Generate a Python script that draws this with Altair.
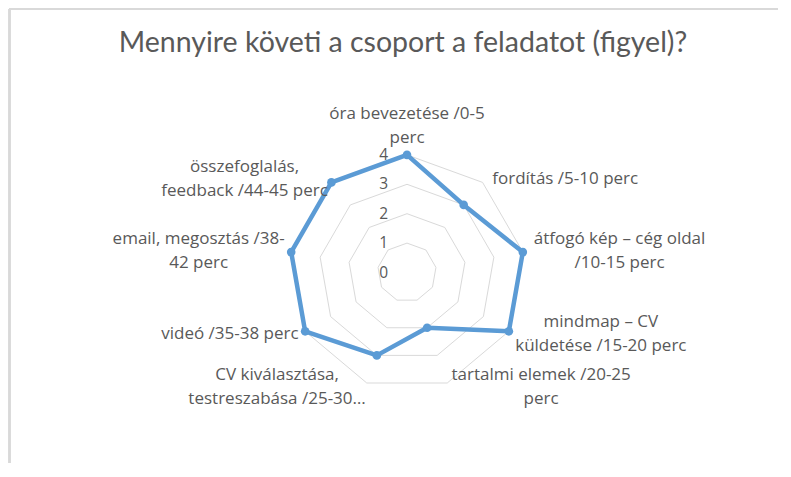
import altair as alt
import pandas as pd

# ---------------- data ----------------
chart_title = "Mennyire követi a csoport a feladatot (figyel)?"
categories = [
    "óra bevezetése /0-5\nperc",
    "fordítás /5-10 perc",
    "átfogó kép – cég oldal\n/10-15 perc",
    "mindmap – CV\nküldetése /15-20 perc",
    "tartalmi elemek /20-25\nperc",
    "CV kiválasztása,\ntestreszabása /25-30…",
    "videó /35-38 perc",
    "email, megosztás /38-\n42 perc",
    "összefoglalás,\nfeedback /44-45 perc",
]
values = [4, 3, 4, 4, 2, 3, 4, 4, 4]
ticks = [0, 1, 2, 3, 4]

# ---------------- layout constants ----------------
N = len(categories)
W, H = 770, 393          # plot area
PAD_TOP = 62
U = 29.4                 # px per value unit
CX, CY = 399, 202.5      # centre inside plot area (px)
XD = [-CX / U, (W - CX) / U]
YD = [-(H - CY) / U, CY / U]
RMAX = max(ticks)
RL = RMAX + 0.15         # label anchor radius
CW = 8.4                 # approx label char width (px)
LH = 24                  # label line height (px)

TXT = "#595959"
GRID = "#d9d9d9"
BLUE = "#5b9bd5"
FONT = "Open Sans"

xs = alt.Scale(domain=XD, nice=False, zero=False)
ys = alt.Scale(domain=YD, nice=False, zero=False)

ANG = f"2*PI*datum.idx/{N}"

series_df = pd.DataFrame({
    "idx": list(range(N)) + [N],
    "value": values + [values[0]],
    "category": categories + [categories[0]],
})
points_df = pd.DataFrame({"idx": list(range(N)), "value": values, "category": categories})

grid_rows = [{"ring": t, "idx": i} for t in ticks if t > 0 for i in range(N + 1)]
grid_df = pd.DataFrame(grid_rows)

tick_df = pd.DataFrame({"t": ticks})

label_df = pd.DataFrame({
    "idx": list(range(N)),
    "label": categories,
    "nlines": [len(c.split("\n")) for c in categories],
    "maxlen": [max(len(s) for s in c.split("\n")) for c in categories],
})

X = lambda f: alt.X(f, scale=xs, axis=None)
Y = lambda f: alt.Y(f, scale=ys, axis=None)

grid = alt.Chart(grid_df).transform_calculate(
    gx=f"datum.ring*sin({ANG})", gy=f"datum.ring*cos({ANG})"
).mark_line(color=GRID, strokeWidth=1).encode(
    x=X("gx:Q"), y=Y("gy:Q"), detail="ring:N", order="idx:Q"
)

line = alt.Chart(series_df).transform_calculate(
    px=f"datum.value*sin({ANG})", py=f"datum.value*cos({ANG})"
).mark_line(color=BLUE, strokeWidth=4.5, strokeJoin="round").encode(
    x=X("px:Q"), y=Y("py:Q"), order="idx:Q"
)

pts = alt.Chart(points_df).transform_calculate(
    px=f"datum.value*sin({ANG})", py=f"datum.value*cos({ANG})"
).mark_circle(color=BLUE, size=75, opacity=1).encode(
    x=X("px:Q"), y=Y("py:Q"), tooltip=["category:N", "value:Q"]
)

tick_labels = alt.Chart(tick_df).transform_calculate(
    tx=f"-{19 / U}", ty="datum.t"
).mark_text(align="right", baseline="middle", fontSize=15.5, font=FONT, color=TXT).encode(
    x=X("tx:Q"), y=Y("ty:Q"), text="t:Q"
)

cat_labels = alt.Chart(label_df).transform_calculate(
    s=f"sin({ANG})", c=f"cos({ANG})"
).transform_calculate(
    side="datum.s > 0.1 ? 1 : (datum.s < -0.1 ? -1 : 0)"
).transform_calculate(
    lx=f"{RL}*datum.s + datum.side*datum.maxlen*{CW}/2/{U}",
    lc=f"datum.side == 0 ? ({RMAX} + (datum.nlines*{LH}/2 + 5)/{U}) : {RL}*datum.c",
).transform_calculate(
    ly=f"datum.lc + (datum.nlines - 1)*{LH}/2/{U}"
).mark_text(
    align="center", baseline="middle", lineBreak="\n", lineHeight=LH,
    fontSize=17, font=FONT, color=TXT
).encode(x=X("lx:Q"), y=Y("ly:Q"), text="label:N")

border_left = alt.Chart(tick_df).mark_rule(color=GRID, strokeWidth=2).encode(
    x=alt.value(1.5), y=alt.value(-PAD_TOP + 1), y2=alt.value(H)
)
border_top = alt.Chart(tick_df).mark_rule(color=GRID, strokeWidth=2).encode(
    x=alt.value(1), x2=alt.value(W), y=alt.value(-PAD_TOP + 1)
)

chart = alt.layer(
    border_left, border_top, grid, line, pts, tick_labels, cat_labels
).properties(
    width=W, height=H,
    title=alt.TitleParams(
        chart_title, fontSize=28.5, font="Lato", fontWeight="normal", color=TXT,
        anchor="middle", dx=10, offset=-49
    ),
    autosize=alt.AutoSizeParams(type="none"),
    padding={"left": 0, "right": 0, "top": PAD_TOP, "bottom": 0},
    background="white",
).configure_view(stroke=None)

chart.save("out.html", embed_options={"renderer": "svg", "actions": False})
